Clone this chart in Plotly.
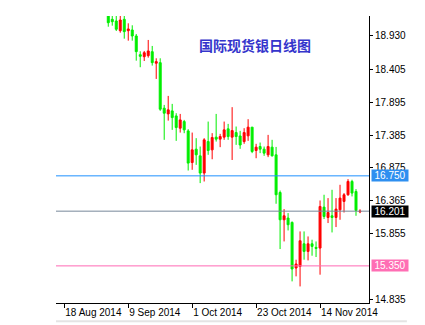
import numpy as np
import pandas as pd
import plotly.graph_objects as go

# ---- data ----
start_date = "2014-09-02"
n_bars = 64
dates = pd.bdate_range(start_date, periods=n_bars)

opens = [19.30, 19.184, 19.158, 19.007, 19.184, 19.007, 19.018, 18.925, 18.634, 18.603,
         18.619, 18.681, 18.501, 18.510, 17.802, 17.713, 17.760, 17.682, 17.491, 17.594,
         17.449, 16.957, 17.165, 17.061, 16.793, 17.283, 17.154, 17.352, 17.321, 17.352,
         17.481, 17.352, 17.423, 17.370, 17.283, 17.372, 17.507, 17.144, 17.206, 17.165,
         17.077, 17.196, 17.077, 16.491, 16.067, 16.094, 16.026, 15.317, 15.342, 15.694,
         15.575, 15.694, 15.638, 15.627, 16.264, 16.103, 16.129, 16.103, 16.222, 16.352,
         16.456, 16.663, 16.507, 16.190]
highs = [19.35, 19.26, 19.26, 19.25, 19.25, 19.122, 19.091, 18.956, 18.687, 18.692,
         18.863, 18.770, 18.578, 18.578, 17.853, 17.993, 17.869, 17.724, 17.713, 17.620,
         17.476, 17.423, 17.336, 17.206, 17.336, 17.594, 17.414, 17.713, 17.403, 17.594,
         17.558, 17.818, 17.517, 17.450, 17.491, 17.631, 17.510, 17.248, 17.268, 17.206,
         17.387, 17.310, 17.200, 16.522, 16.233, 16.171, 16.041, 15.446, 15.886, 15.886,
         15.808, 15.757, 15.730, 16.367, 16.456, 16.404, 16.533, 16.404, 16.611, 16.482,
         16.699, 16.689, 16.544, 16.230]
lows = [19.069, 19.085, 19.002, 18.976, 18.883, 18.852, 18.852, 18.541, 18.439, 18.536,
        18.588, 18.464, 18.257, 17.760, 17.310, 17.609, 17.465, 17.294, 17.423, 17.413,
        16.833, 16.844, 16.921, 16.637, 16.662, 17.077, 17.008, 17.283, 17.196, 17.310,
        17.310, 16.997, 17.232, 17.170, 17.248, 17.294, 17.103, 17.024, 17.103, 17.061,
        17.041, 17.051, 16.316, 15.612, 15.730, 15.901, 15.109, 15.187, 15.031, 15.446,
        15.435, 15.508, 15.488, 15.213, 16.078, 16.016, 15.870, 15.954, 16.067, 16.180,
        16.440, 16.430, 16.129, 16.170]
closes = [19.131, 19.147, 19.029, 19.173, 18.992, 19.034, 18.925, 18.681, 18.609, 18.665,
          18.692, 18.510, 18.526, 17.786, 17.724, 17.776, 17.656, 17.501, 17.620, 17.465,
          16.948, 17.154, 17.077, 16.793, 17.310, 17.144, 17.346, 17.321, 17.361, 17.465,
          17.361, 17.454, 17.361, 17.230, 17.423, 17.507, 17.128, 17.196, 17.165, 17.103,
          17.206, 17.061, 16.456, 16.067, 16.129, 15.990, 15.302, 15.379, 15.741, 15.575,
          15.694, 15.653, 15.622, 16.274, 16.118, 16.180, 16.103, 16.233, 16.404, 16.456,
          16.663, 16.482, 16.212, 16.201]

tick_dates = ["2014-08-18", "2014-09-09", "2014-10-01", "2014-10-23", "2014-11-14"]
tick_labels = ["18 Aug 2014", "9 Sep 2014", "1 Oct 2014", "23 Oct 2014", "14 Nov 2014"]

y_ticks = [18.930, 18.405, 17.895, 17.385, 16.875, 16.365, 15.855, 14.835]

level_values = [16.750, 16.201, 15.350]
level_line_colors = ["#1E90FF", "#778899", "#FF69B4"]
level_box_colors = ["#2E8FF0", "#000000", "#FF6EB4"]

title_text = "国际现货银日线图"

# ---- positions on a trading-day axis ----
origin = tick_dates[0]
x_pos = np.busday_count(origin, dates.values.astype("datetime64[D]"))
tick_pos = np.busday_count(origin, np.array(tick_dates, dtype="datetime64[D]"))

FONT = "Liberation Sans"

fig = go.Figure()
fig.add_trace(go.Candlestick(
    x=x_pos, open=opens, high=highs, low=lows, close=closes,
    increasing=dict(line=dict(color="#FF0000", width=1), fillcolor="#FF0000"),
    decreasing=dict(line=dict(color="#00EE00", width=1), fillcolor="#00EE00"),
    whiskerwidth=0, showlegend=False, hoverinfo="skip",
))

shapes = []
annotations = []
for v, lc, bc in zip(level_values, level_line_colors, level_box_colors):
    shapes.append(dict(type="line", xref="paper", x0=0, x1=1, yref="y", y0=v, y1=v,
                       line=dict(color=lc, width=1), layer="above"))
    annotations.append(dict(x=1, xref="paper", y=v, yref="y", xanchor="left", yanchor="middle",
                            xshift=2, text=f"{v:.3f}", showarrow=False, bgcolor=bc,
                            width=36, height=11, borderpad=0,
                            font=dict(family=FONT, size=10, color="white")))

# bottom light frame line
shapes.append(dict(type="line", xref="paper", yref="paper", x0=0, x1=1.121, y0=-0.064, y1=-0.064,
                   line=dict(color="#E4E4E4", width=2)))

annotations.append(dict(x=0.636, xref="paper", y=0.899, yref="paper", text=f"<b>{title_text}</b>",
                        showarrow=False, xanchor="center", yanchor="middle",
                        font=dict(family="Noto Sans CJK SC", size=14, color="#3535CC")))

fig.update_layout(
    width=425, height=325,
    margin=dict(l=56, r=56, t=16, b=22),
    paper_bgcolor="white", plot_bgcolor="white",
    shapes=shapes, annotations=annotations,
    xaxis=dict(range=[-2.08, 76.25], rangeslider=dict(visible=False), showgrid=False, zeroline=False,
               showline=True, linecolor="black", linewidth=1, ticks="outside", ticklen=4,
               tickcolor="black", tickvals=list(tick_pos), ticktext=tick_labels,
               tickangle=0, automargin=False,
               ticklabelposition="outside right", tickfont=dict(family=FONT, size=10, color="black")),
    yaxis=dict(side="right", range=[14.773, 19.2355], showgrid=False, zeroline=False,
               showline=True, linecolor="black", linewidth=1, ticks="outside", ticklen=3,
               tickcolor="black", tickvals=y_ticks, ticktext=[f"{t:.3f}" for t in y_ticks],
               automargin=False, tickfont=dict(family=FONT, size=10, color="black")),
)

fig.write_html("out.html")
